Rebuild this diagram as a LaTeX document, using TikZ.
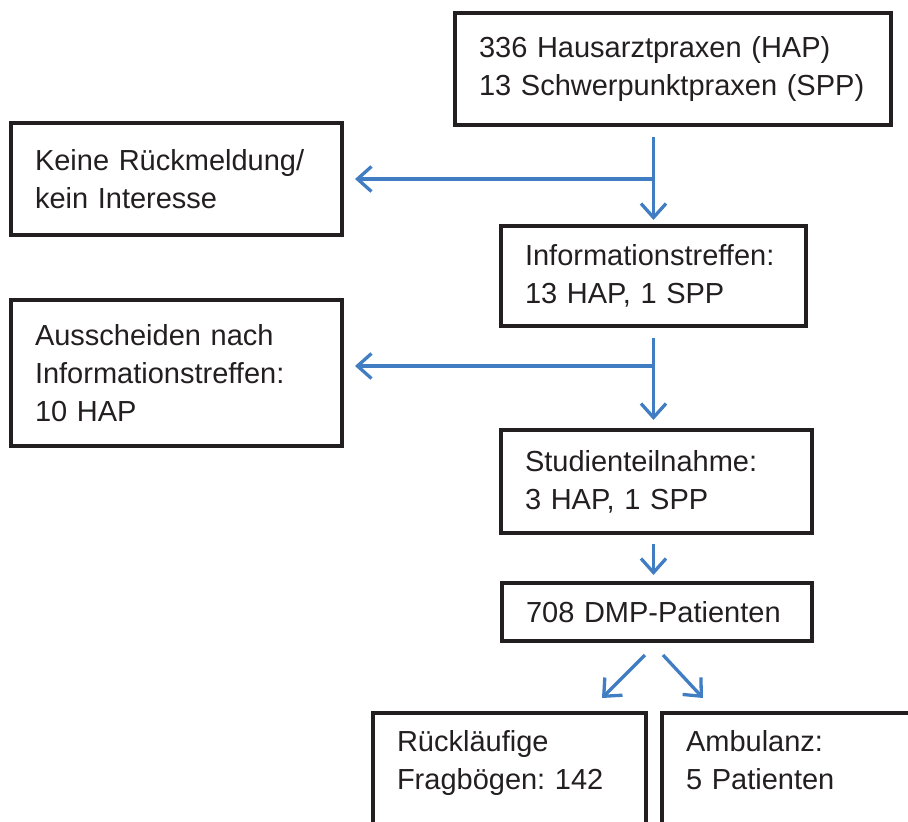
\documentclass[tikz,border=0pt]{standalone}
\usepackage{fontspec}
\setmainfont{Liberation Sans}
\usetikzlibrary{arrows.meta}
\definecolor{arrowblue}{RGB}{65,125,194}
\definecolor{boxline}{RGB}{35,31,32}
\frenchspacing

\begin{document}
\begin{tikzpicture}[x=1pt,y=-1pt,>={Straight Barb[length=14pt,width=25pt]},
  box/.style={draw=boxline,line width=4pt,align=left,inner xsep=24pt,inner ysep=0pt,
    font=\fontsize{29}{38}\selectfont,text=boxline},
  arr/.style={->,draw=arrowblue,line width=3.3pt}]
\useasboundingbox (0,0) rectangle (908,822);
\clip (0,0) rectangle (908,822);

\node[box,text width=388pt,minimum height=112pt] (hap) at (673,69)
  {336 Hausarztpraxen (HAP)\\13 Schwerpunktpraxen (SPP)};
\node[box,text width=283pt,minimum height=112pt] (keine) at (176.5,179)
  {Keine Rückmeldung/\\kein Interesse};
\node[box,text width=257pt,minimum height=100pt] (info) at (653.5,276)
  {Informationstreffen:\\13 HAP, 1 SPP};
\node[box,text width=283pt,minimum height=146pt] (aus) at (176.5,373)
  {Ausscheiden nach\\Informationstreffen:\\10 HAP};
\node[box,text width=263pt,minimum height=103pt] (studie) at (656.5,481.5)
  {Studienteilnahme:\\3 HAP, 1 SPP};
\node[box,text width=262pt,minimum height=58pt] (dmp) at (657,612)
  {708 DMP-Patienten};
\node[box,anchor=north,text width=225pt,inner ysep=17pt,text depth=70pt] (rueck) at (509.5,711)
  {Rückläufige\\Fragbögen: 142};
\node[box,anchor=north,text width=214pt,inner ysep=17pt,text depth=70pt] (amb) at (793,711)
  {Ambulanz:\\5 Patienten};

\coordinate (j1) at ([yshift=-52pt]hap.south -| info.north);
\coordinate (j2) at ([yshift=-38pt]info.south);

\draw[arr,shorten <=10pt,shorten >=4pt] (hap.south -| info.north) -- (info.north);
\draw[arr,shorten >=11pt] (j1) -- (j1 -| keine.east);
\draw[arr,shorten <=10pt,shorten >=8pt] (info.south) -- (studie.north -| info.south);
\draw[arr,shorten >=11pt] (j2) -- (j2 -| aus.east);
\draw[arr,shorten <=9pt,shorten >=6pt] (studie.south -| info.south) -- (dmp.north -| info.south);
\draw[arr] ([xshift=-12pt,yshift=-12pt]dmp.south) -- ([xshift=92.5pt,yshift=13pt]rueck.north);
\draw[arr] ([xshift=6pt,yshift=-12pt]dmp.south) -- ([xshift=-90pt,yshift=13pt]amb.north);
\end{tikzpicture}
\end{document}
